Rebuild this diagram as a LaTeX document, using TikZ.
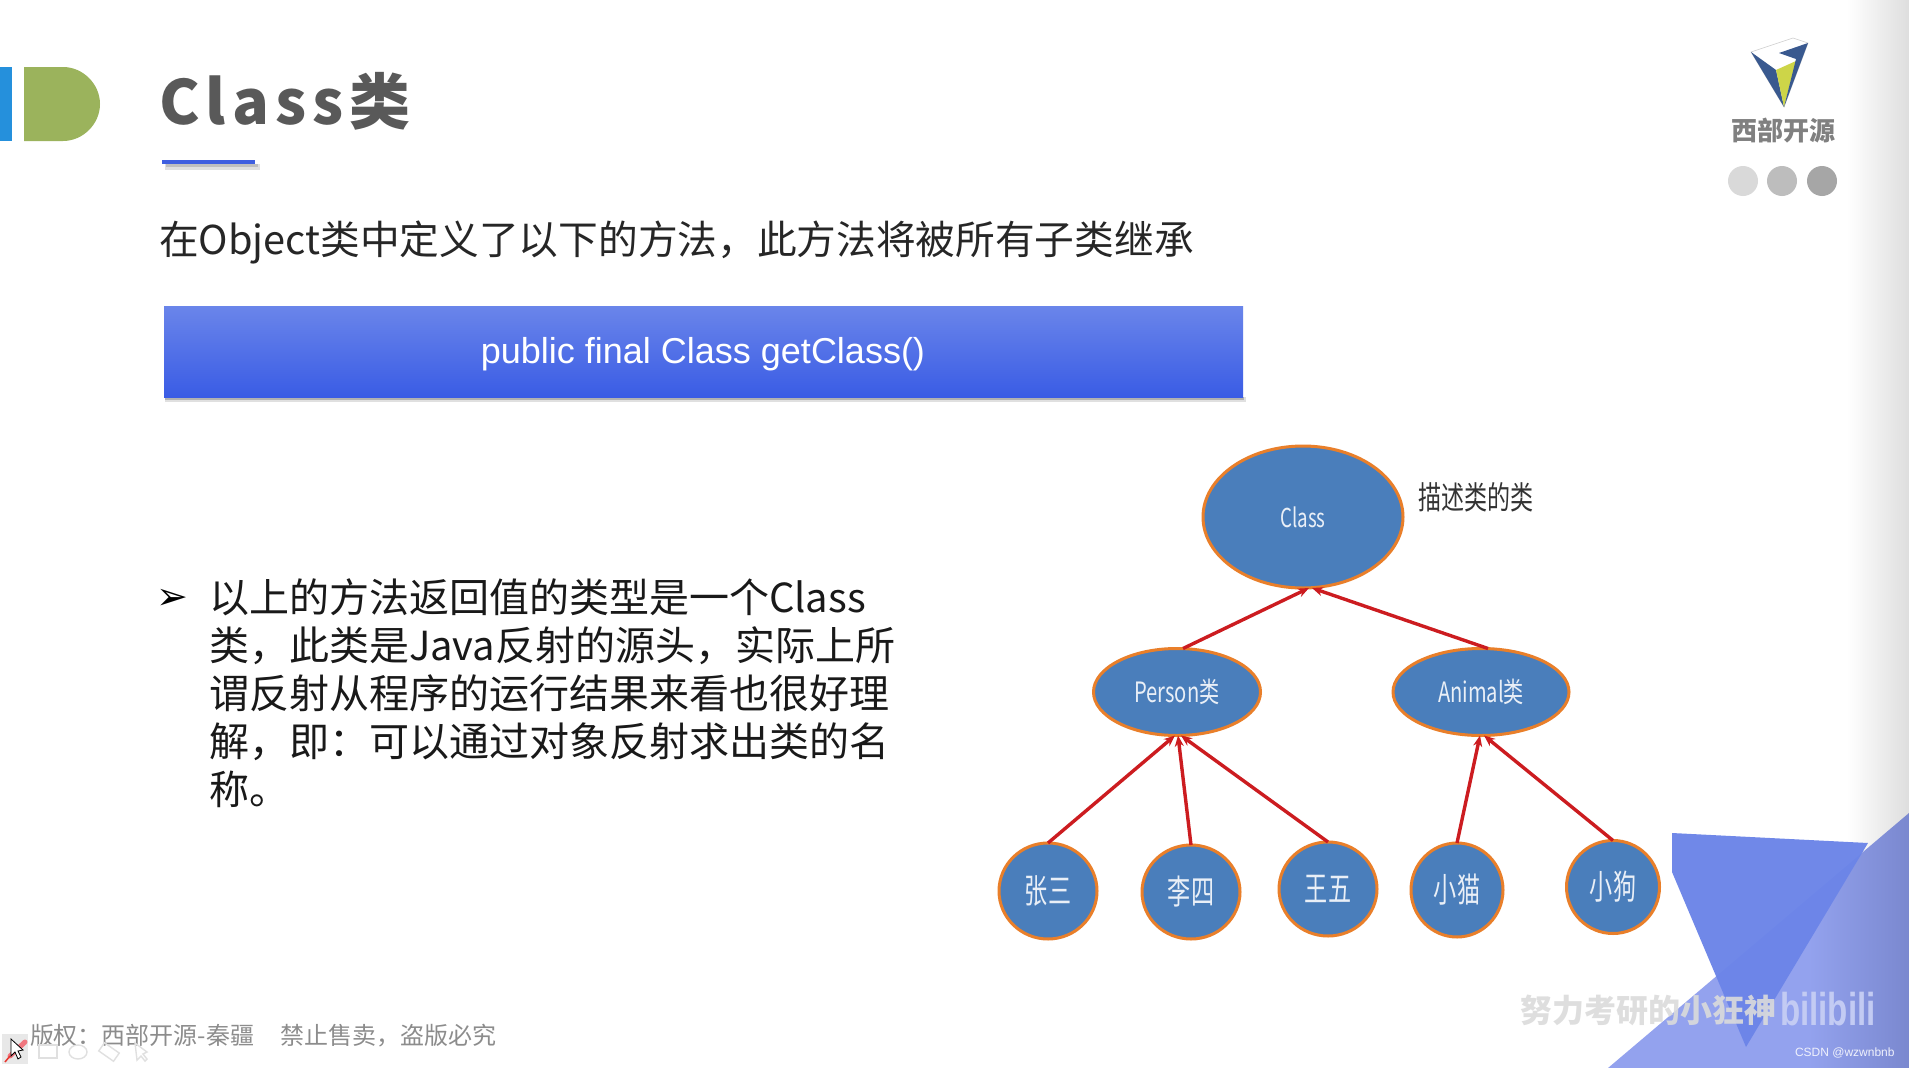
\documentclass[tikz,border=0pt]{standalone}
\usepackage{fontspec}
\usepackage{graphicx}
\usetikzlibrary{shapes.geometric,arrows.meta}
\setmainfont{Noto Sans CJK SC}
\newfontfamily\cjkfont{Noto Sans CJK SC}
\newfontfamily\titlefont[LetterSpace=10]{Noto Sans CJK SC}
\newfontfamily\arialfont{Liberation Sans}
\newfontfamily\dejafont{DejaVu Sans}
\newcommand{\fs}[1]{\fontsize{#1}{#1}\selectfont}
\definecolor{nodeblue}{HTML}{4A7EBB}
\definecolor{nodeorange}{HTML}{E97F2A}
\definecolor{linkred}{HTML}{CC1C20}
\definecolor{titlegrey}{HTML}{595959}
\definecolor{footgrey}{HTML}{8C8C8C}
\definecolor{trilight}{HTML}{93A2EE}
\definecolor{triedge}{HTML}{7A88CF}
\definecolor{tridark}{HTML}{6C85E8}
\definecolor{barblue}{HTML}{2590DC}
\definecolor{dgreen}{HTML}{9BB35C}
\definecolor{lineblue}{HTML}{3F5FE0}
\definecolor{logoblue}{HTML}{39598F}
\definecolor{logoyellow}{HTML}{CDD548}
\definecolor{btntop}{HTML}{6A85EA}
\definecolor{btnbot}{HTML}{3A5CE5}
\definecolor{penpink}{HTML}{F0777F}
\definecolor{penred}{HTML}{E8352E}
\definecolor{bilicol}{HTML}{C3CBF3}
\tikzset{
  plain/.style={inner sep=0pt,outer sep=0pt},
  big/.style={ellipse,draw=nodeorange,line width=3pt,fill=nodeblue,inner sep=0pt,outer sep=0pt,text=white!88!nodeblue},
  link/.style={draw=linkred,line width=3.4pt,-{Stealth[length=11pt,width=9pt]}},
  faint/.style={draw=black!12,line width=1.4pt},
}
\newcommand{\sq}[2]{\scalebox{#1}[1]{#2}}
\begin{document}
\begin{tikzpicture}[x=1pt,y=-1pt]
\useasboundingbox (0,0) rectangle (1909,1068);
\fill[white] (0,0) rectangle (1909,1068);
% right page shade
\shade[left color=white,right color=black!13] (1847,0) rectangle (1909,1068);
% lower right triangles
\begin{scope}
\clip (1909,813) -- (1608,1068) -- (1909,1068) -- cycle;
\fill[trilight] (1600,800) rectangle (1810,1068);
\shade[left color=trilight,right color=triedge] (1809,800) rectangle (1909,1068);
\end{scope}
\fill[tridark,opacity=.97] (1672,833) -- (1868,843) -- (1746,1047) -- (1672,872) -- cycle;
% heading marks
\fill[barblue] (0,67) rectangle (12,141);
\fill[dgreen] (24,67) -- (63,67) .. controls (83,67) and (100,84) .. (100,104) .. controls (100,124) and (83,141) .. (63,141) -- (24,141) -- cycle;
\node[plain,anchor=base west,text=titlegrey] (title) at (159,124) {\titlefont\bfseries\fs{61}Class类};
\fill[black!12] (165,164) rectangle (260,170);
\fill[black!25] (166,164) rectangle (258,167);
\fill[lineblue] (162,160) rectangle (255,164);
% logo
\filldraw[fill=white,draw=black!20,line width=.6pt] (1751,52) -- (1793,38) -- (1808,43) -- (1784,107) -- cycle;
\fill[logoblue] (1751,52) -- (1784,107) -- (1776,70) -- cycle;
\fill[logoyellow] (1776,70) -- (1796,61) -- (1784,107) -- cycle;
\fill[logoblue] (1779,53) -- (1808,43) -- (1784,107) -- (1796,59) -- cycle;
\node[plain,text=black!50] (logotext) at (1783,131) {\cjkfont\bfseries\fs{26}西部开源};
\node[circle,plain,minimum size=30pt,fill=black!15] (dotone) at (1743,181) {};
\node[circle,plain,minimum size=30pt,fill=black!26] (dottwo) at (1782,181) {};
\node[circle,plain,minimum size=30pt,fill=black!35] (dotthree) at (1822,181) {};
% subtitle
\node[plain,anchor=base west,text=black!85] (subtitle) at (159,254) {\fs{39.7}在Object类中定义了以下的方法，此方法将被所有子类继承};
% button
\fill[black!12] (165,397) rectangle (1246,402);
\fill[black!30] (165,397) rectangle (1244,400);
\shade[top color=btntop,bottom color=btnbot] (164,306) rectangle (1243,397);
\node[plain,text=white] (method) at (703,354) {\arialfont\fs{36}public final Class getClass()};
% body
\node[plain,anchor=base west] (bullet) at (156,609) {\dejafont\fs{38}➢};
\node[plain,anchor=north west,align=left,text=black!90,font={\fontsize{40}{48}\selectfont}] (body) at (209,579) {以上的方法返回值的类型是一个Class\\
类，此类是Java反射的源头，实际上所\\
谓反射从程序的运行结果来看也很好理\\
解，即：可以通过对象反射求出类的名\\
称。};
% tree
\node[big,minimum width=200pt,minimum height=142pt] (class) at (1303,517) {\raisebox{-2pt}{\sq{.72}{\fs{26}Class}}};
\node[big,minimum width=167pt,minimum height=87pt] (person) at (1177,692) {\sq{.72}{\fs{28}Person类}};
\node[big,minimum width=176pt,minimum height=87pt] (animal) at (1481,692) {\sq{.72}{\fs{28}Animal类}};
\node[big,minimum width=98pt,minimum height=96pt] (zs) at (1048,891) {\sq{.68}{\fs{34}张三}};
\node[big,minimum width=98pt,minimum height=94pt] (ls) at (1191,892) {\sq{.68}{\fs{34}李四}};
\node[big,minimum width=98pt,minimum height=94pt] (ww) at (1328,889) {\sq{.68}{\fs{34}王五}};
\node[big,minimum width=92pt,minimum height=94pt] (xm) at (1457,890) {\sq{.68}{\fs{34}小猫}};
\node[big,minimum width=93pt,minimum height=93pt] (xg) at (1613,887) {\sq{.68}{\fs{34}小狗}};
\node[plain,anchor=west,text=black!80] (desc) at (1418,497) {\sq{.72}{\fs{32}描述类的类}};
\draw[link] ([xshift=6pt]person.north) -- ([xshift=6pt]class.south);
\draw[link] ([xshift=7pt]animal.north) -- ([xshift=9pt]class.south);
\draw[link] (zs.north) -- ([xshift=-2pt]person.south);
\draw[link] (ls.north) -- ([xshift=1pt]person.south);
\draw[link] (ww.north) -- ([xshift=4pt]person.south);
\draw[link] (xm.north) -- ([xshift=-1pt]animal.south);
\draw[link] (xg.north) -- ([xshift=3pt]animal.south);
% footer
\node[plain,anchor=west,text=footgrey] (footer) at (30,1036) {\fs{24}版权：西部开源-秦疆\hspace{26pt}禁止售卖，盗版必究};
% slide toolbar
\fill[black!9] (2,1034) rectangle (28,1064);
\draw[penpink,line width=5pt,line cap=round] (10,1056) -- (25,1042);
\draw[penred,line width=1.5pt] (5,1062) -- (10,1056);
\filldraw[draw=black,fill=white,line width=.8pt] (11,1039) -- (11,1056) -- (15,1052) -- (18,1059) -- (21,1057) -- (18,1051) -- (23,1050) -- cycle;
\draw[faint] (39,1045) rectangle (57,1058);
\draw[faint] (78,1052) circle[x radius=9,y radius=7];
\draw[faint,rotate around={-35:(109,1052)}] (100,1047) rectangle (118,1057);
\draw[faint] (135,1043) -- (137,1060) -- (141,1056) -- (145,1061) -- (147,1059) -- (143,1054) -- (147,1052) -- cycle;
% watermark
\node[plain,anchor=west,text=black!14,opacity=.9] (wm) at (1520,1010) {\cjkfont\bfseries\fs{32}努力考研的小狂神};
\node[plain,anchor=west,text=bilicol] (bili) at (1780,1009) {\arialfont\bfseries\fs{46}\sq{.72}{bilibili}};
\node[plain,anchor=west,text=white!85!trilight] (csdn) at (1795,1053) {\arialfont\fs{12}CSDN @wzwnbnb};
\end{tikzpicture}
\end{document}
